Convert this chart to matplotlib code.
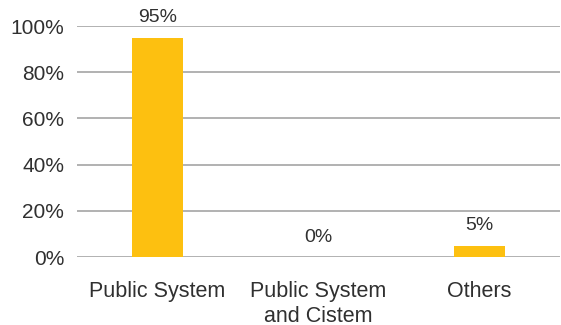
import matplotlib.pyplot as plt

categories = ['Public System', 'Public System\nand Cistem', 'Others']
shares = [95, 0, 5]
value_labels = ['95%', '0%', '5%']
yticks = [0, 20, 40, 60, 80, 100]

plt.rcParams['font.family'] = ['Liberation Sans', 'DejaVu Sans']

fig = plt.figure(figsize=(5.61, 3.25), dpi=100)
ax = fig.add_axes([0.137, 0.209, 0.861, 0.711])

xAxis = range(len(categories))
bars = ax.bar(xAxis, shares, width=0.32, color='#FDC010', zorder=3)

for bar, lab in zip(bars, value_labels):
    ax.annotate(lab, (bar.get_x() + bar.get_width() / 2, bar.get_height()),
                xytext=(0, 8), textcoords='offset points',
                ha='center', va='bottom', fontsize=14, color='#303030')

ax.set_xlim(-0.5, 2.5)
ax.set_ylim(0, 100)
ax.set_yticks(yticks)
ax.set_yticklabels([f'{v}%' for v in yticks], fontsize=15, color='#303030')
ax.set_xticks(list(xAxis))
ax.set_xticklabels(categories, fontsize=15.5, color='#303030', linespacing=1.3)
ax.tick_params(axis='both', length=0)
ax.tick_params(axis='x', pad=17)
ax.tick_params(axis='y', pad=9)

ax.grid(axis='y', color='#ABABAB', linewidth=1.3, zorder=0)
for side in ['top', 'right', 'left', 'bottom']:
    ax.spines[side].set_visible(False)

fig.savefig('out.png', dpi=100)
